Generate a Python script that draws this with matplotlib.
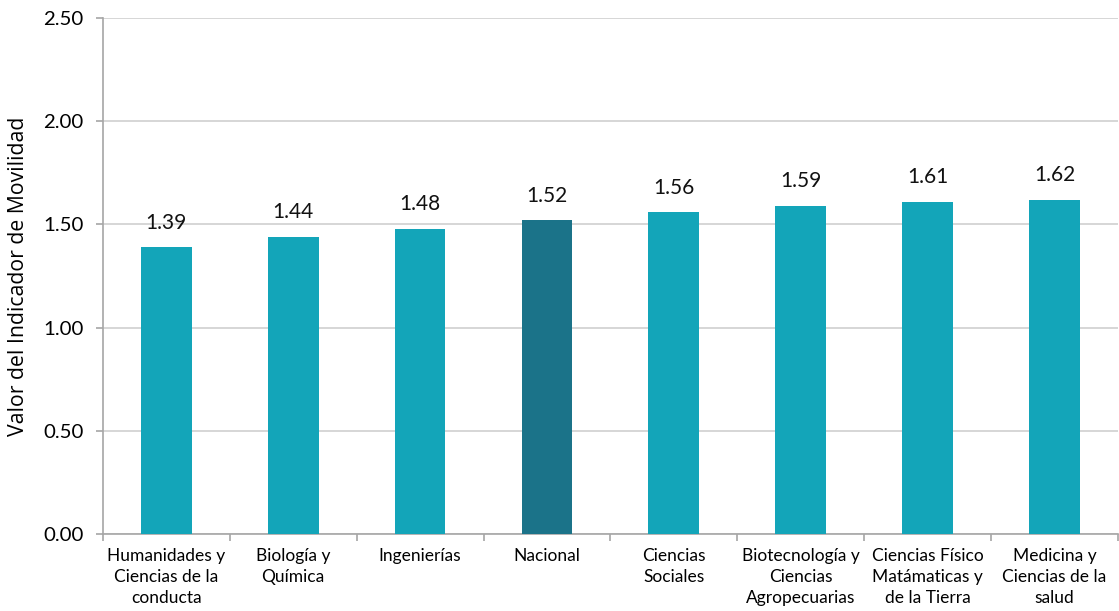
import matplotlib
matplotlib.use("Agg")
import matplotlib.pyplot as plt
import numpy as np

categories = ["Humanidades y\nCiencias de la\nconducta", "Biología y\nQuímica", "Ingenierías",
              "Nacional", "Ciencias\nSociales", "Biotecnología y\nCiencias\nAgropecuarias",
              "Ciencias Físico\nMatámaticas y\nde la Tierra", "Medicina y\nCiencias de la\nsalud"]
values = [1.39, 1.44, 1.48, 1.52, 1.56, 1.59, 1.61, 1.62]
highlight = "Nacional"
yticks = [0.0, 0.5, 1.0, 1.5, 2.0, 2.5]

plt.rcParams['font.family'] = ['Lato', 'DejaVu Sans']

fig = plt.figure(figsize=(11.19, 6.11), dpi=100)
ax = fig.add_axes([0.092, 0.126, 0.907, 0.8445])

x = np.arange(len(categories))
colors = ["#1B7389" if c == highlight else "#13A5B9" for c in categories]
bars = ax.bar(x, values, width=0.40, color=colors, zorder=3)

for xi, v in zip(x, values):
    ax.text(xi, v + 0.07, f"{v:.2f}", ha="center", va="bottom", fontsize=15, color="#111111")

ax.set_xlim(-0.5, len(categories) - 0.5)
ax.set_ylim(0, 2.5)
ax.set_yticks(yticks)
ax.set_yticklabels([f"{t:.2f}" for t in yticks], fontsize=14.7)
ax.set_xticks(x)
ax.set_xticklabels(categories, fontsize=12.5, linespacing=1.4)
ax.tick_params(axis="x", which="major", length=0, pad=10)
ax.set_xticks(np.arange(-0.5, len(categories), 1.0), minor=True)
ax.tick_params(axis="x", which="minor", length=5, color="#A6A6A6", width=1.2)
ax.tick_params(axis="y", length=5, color="#A6A6A6", width=1.2, pad=9)

ax.grid(axis="y", color="#D0D0D0", linewidth=1.2, zorder=0)
for s in ["top", "right"]:
    ax.spines[s].set_visible(False)
for s in ["left", "bottom"]:
    ax.spines[s].set_color("#A6A6A6")
    ax.spines[s].set_linewidth(1.2)

ax.set_ylabel("Valor del Indicador de Movilidad", fontsize=15.3, family=['Open Sans', 'DejaVu Sans'])
ax.yaxis.set_label_coords(-0.073, 0.5)

fig.savefig("out.png", dpi=100)
